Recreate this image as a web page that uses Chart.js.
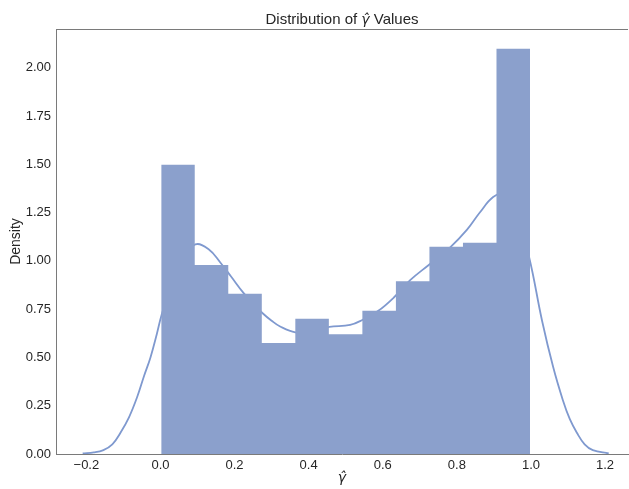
<!DOCTYPE html>
<html>
<head>
<meta charset="utf-8">
<script src="https://cdn.jsdelivr.net/npm/chart.js@4.4.0/dist/chart.umd.min.js"></script>
<style>
  html, body { margin: 0; padding: 0; background: #fff; }
  canvas { display: block; }
</style>
</head>
<body>
<canvas id="hist" width="629" height="489"></canvas>
<script>
// bordi dei bin dell'istogramma e densità di ogni bin
const binEdges = [0.002, 0.0925, 0.183, 0.2735, 0.364, 0.4545, 0.545, 0.6355, 0.726, 0.8165, 0.907, 0.9975];
const density = [1.497, 0.978, 0.829, 0.575, 0.700, 0.620, 0.741, 0.894, 1.073, 1.093, 2.098];

// curva KDE
const kdeX = [-0.21, -0.18, -0.154, -0.13, -0.108, -0.085, -0.062, -0.045, -0.027, -0.01, 0.003, 0.03, 0.06, 0.094, 0.13, 0.162, 0.19, 0.224, 0.25, 0.275, 0.30, 0.323, 0.364, 0.40, 0.456, 0.512, 0.545, 0.588, 0.63, 0.674, 0.725, 0.782, 0.827, 0.862, 0.898, 0.93, 0.96, 0.995, 1.03, 1.06, 1.086, 1.105, 1.124, 1.145, 1.167, 1.21];
const kdeY = [0.003, 0.008, 0.02, 0.05, 0.11, 0.19, 0.30, 0.40, 0.50, 0.62, 0.72, 0.88, 1.01, 1.085, 1.06, 0.99, 0.92, 0.834, 0.78, 0.73, 0.69, 0.66, 0.63, 0.635, 0.658, 0.668, 0.694, 0.741, 0.81, 0.90, 0.98, 1.07, 1.16, 1.25, 1.33, 1.35, 1.25, 1.02, 0.69, 0.45, 0.28, 0.18, 0.11, 0.05, 0.02, 0.003];

const xTicks = [-0.2, 0.0, 0.2, 0.4, 0.6, 0.8, 1.0, 1.2];
const yTicks = [0, 0.25, 0.5, 0.75, 1.0, 1.25, 1.5, 1.75, 2.0];

// titolo in tre pezzi: testo, simbolo, testo
const titleParts = ["Distribution of ", "γ\u0302", " Values"];

// istogramma come linea a gradini riempita (niente fessure fra le barre)
const histData = binEdges.map((e, i) => ({ x: e, y: density[Math.min(i, density.length - 1)] }));
const kdeData = kdeX.map((x, i) => ({ x: x, y: kdeY[i] }));

const font = "'Liberation Sans', Arial, sans-serif";
const mathFont = "italic 14px 'DejaVu Sans', sans-serif";
const axisColor = "#7a7a7a";
const textColor = "#262626";

// linea superiore del riquadro e titolo
const frame = {
  id: "frame",
  afterDraw(chart) {
    const a = chart.chartArea;
    const ctx = chart.ctx;
    ctx.save();
    ctx.strokeStyle = axisColor;
    ctx.lineWidth = 1;
    ctx.beginPath();
    ctx.moveTo(a.left, a.top + 0.5);
    ctx.lineTo(a.right, a.top + 0.5);
    ctx.stroke();

    const fonts = ["15px " + font, mathFont, "15px " + font];
    let widths = titleParts.map((t, i) => { ctx.font = fonts[i]; return ctx.measureText(t).width; });
    let total = widths.reduce((s, w) => s + w, 0);
    let x = (a.left + a.right) / 2 - total / 2;
    ctx.fillStyle = textColor;
    ctx.textBaseline = "alphabetic";
    ctx.textAlign = "left";
    titleParts.forEach((t, i) => {
      ctx.font = fonts[i];
      ctx.fillText(t, x, 24);
      x += widths[i];
    });
    ctx.restore();
  },
};

new Chart(document.getElementById("hist"), {
  type: "line",
  data: {
    datasets: [
      {
        label: "hist",
        data: histData,
        stepped: true,
        borderWidth: 0,
        borderColor: "rgba(0,0,0,0)",
        backgroundColor: "#8ba0cc",
        fill: "origin",
        pointRadius: 0,
        order: 0,
      },
      {
        label: "kde",
        data: kdeData,
        borderColor: "#7f99cf",
        borderWidth: 1.8,
        pointRadius: 0,
        tension: 0.4,
        fill: false,
        order: 1,
      },
    ],
  },
  options: {
    responsive: false,
    animation: false,
    events: [],
    layout: { padding: { left: 0, right: 1, top: 29, bottom: 0 } },
    plugins: {
      legend: { display: false },
      tooltip: { enabled: false },
      title: { display: false },
    },
    scales: {
      x: {
        type: "linear",
        min: -0.282,
        max: 1.262,
        offset: false,
        grid: { display: false, drawTicks: false },
        border: { display: true, color: axisColor, width: 1 },
        afterBuildTicks: (s) => { s.ticks = xTicks.map((v) => ({ value: v })); },
        afterFit: (s) => { s.height = 35; },
        ticks: {
          padding: 4,
          maxRotation: 0,
          color: textColor,
          font: { family: font, size: 13 },
          callback: (v) => (v < 0 ? "\u2212" + Math.abs(v).toFixed(1) : v.toFixed(1)),
        },
        title: {
          display: true,
          text: "γ\u0302",
          color: textColor,
          font: { family: "'DejaVu Sans', sans-serif", size: 14, style: "italic" },
          padding: { top: 0, bottom: 2 },
        },
      },
      y: {
        min: 0,
        max: 2.2,
        grid: { display: false, drawTicks: false },
        border: { display: true, color: axisColor, width: 1 },
        afterBuildTicks: (s) => { s.ticks = yTicks.map((v) => ({ value: v })); },
        afterFit: (s) => { s.width = 56; },
        ticks: {
          padding: 5,
          color: textColor,
          font: { family: font, size: 13 },
          callback: (v) => v.toFixed(2),
        },
        title: {
          display: true,
          text: "Density",
          color: textColor,
          font: { family: font, size: 14 },
          padding: { top: 8, bottom: 0 },
        },
      },
    },
  },
  plugins: [frame],
});
</script>
</body>
</html>
